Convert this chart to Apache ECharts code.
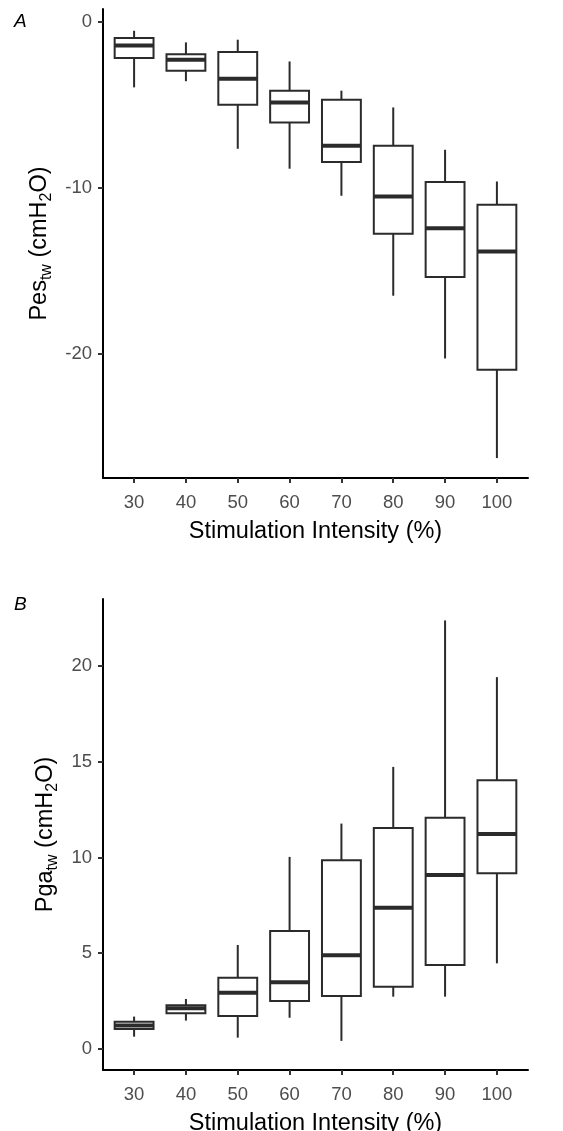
<!DOCTYPE html>
<html>
<head>
<meta charset="utf-8">
<script src="https://cdn.jsdelivr.net/npm/echarts@6/dist/echarts.min.js"></script>
<style>
html,body{margin:0;padding:0;background:#fff;}
#chart{width:563px;height:1131px;}
</style>
</head>
<body>
<div id="chart"></div>
<script>
// Categories (stimulation intensity, %)
const categories = ['30', '40', '50', '60', '70', '80', '90', '100'];

// Panel A: Pes_tw (cmH2O)
const pesLow    = [-3.97, -3.60, -7.67, -8.87, -10.50, -16.52, -20.30, -26.30];
const pesQ1     = [-2.20, -2.97, -5.02, -6.08,  -8.47, -12.79, -15.40, -20.98];
const pesMedian = [-1.45, -2.30, -3.45, -4.88,  -7.49, -10.54, -12.45, -13.86];
const pesQ3     = [-1.00, -1.97, -1.84, -4.17,  -4.72,  -7.49,  -9.67, -11.04];
const pesHigh   = [-0.56, -1.26, -1.10, -2.41,  -4.17,  -5.18,  -7.73,  -9.64];
const pesTicks  = [-20, -10, 0];

// Panel B: Pga_tw (cmH2O)
const pgaLow    = [0.64, 1.48, 0.59, 1.63, 0.42, 2.73, 2.73, 4.47];
const pgaQ1     = [1.04, 1.86, 1.72, 2.50, 2.76, 3.25, 4.38, 9.17];
const pgaMedian = [1.22, 2.12, 2.94, 3.48, 4.89, 7.37, 9.08, 11.22];
const pgaQ3     = [1.42, 2.28, 3.72, 6.16, 9.86, 11.54, 12.07, 14.03];
const pgaHigh   = [1.69, 2.61, 5.43, 10.03, 11.77, 14.73, 22.38, 19.42];
const pgaTicks  = [0, 5, 10, 15, 20];

const FONT = '"Liberation Sans", Arial, Helvetica, sans-serif';
const positions = categories.map((c, i) => i + 1);

function buildData(low, q1, med, q3, high) {
  return categories.map((c, i) => [i + 1, low[i], q1[i], med[i], q3[i], high[i]]);
}

function renderBox(params, api) {
  const x = api.value(0);
  const lo = api.coord([x, api.value(1)]);
  const q1 = api.coord([x, api.value(2)]);
  const med = api.coord([x, api.value(3)]);
  const q3 = api.coord([x, api.value(4)]);
  const hi = api.coord([x, api.value(5)]);
  const w = api.size([0.75, 0])[0];
  const cx = lo[0];
  const ls = {stroke: '#2b2b2b', lineWidth: 2, fill: null};
  return {
    type: 'group',
    children: [
      {type: 'line', shape: {x1: cx, y1: hi[1], x2: cx, y2: q3[1]}, style: ls},
      {type: 'line', shape: {x1: cx, y1: q1[1], x2: cx, y2: lo[1]}, style: ls},
      {type: 'rect', shape: {x: cx - w / 2, y: q3[1], width: w, height: q1[1] - q3[1]},
        style: {stroke: '#2b2b2b', lineWidth: 2, fill: '#ffffff'}},
      {type: 'line', shape: {x1: cx - w / 2, y1: med[1], x2: cx + w / 2, y2: med[1]},
        style: {stroke: '#2b2b2b', lineWidth: 4}}
    ]
  };
}

function xAxisCfg(gridIndex) {
  return {
    type: 'value', gridIndex: gridIndex, min: 0.4, max: 8.6,
    axisLine: {show: true, onZero: false, lineStyle: {color: '#000', width: 2}},
    axisTick: {show: true, customValues: positions, length: 5, lineStyle: {color: '#333', width: 2}},
    axisLabel: {customValues: positions, formatter: v => categories[Math.round(v) - 1],
      fontSize: 18.5, color: '#4d4d4d', fontFamily: FONT, margin: 15},
    splitLine: {show: false},
    name: 'Stimulation Intensity (%)', nameLocation: 'middle', nameGap: 42,
    nameTextStyle: {fontSize: 23.5, color: '#000', fontFamily: FONT}
  };
}

function yAxisCfg(gridIndex, min, max, ticks, prefix) {
  return {
    type: 'value', gridIndex: gridIndex, min: min, max: max,
    axisLine: {show: true, onZero: false, lineStyle: {color: '#000', width: 2}},
    axisTick: {show: true, customValues: ticks, length: 5, lineStyle: {color: '#333', width: 2}},
    axisLabel: {customValues: ticks, fontSize: 18.5, color: '#4d4d4d', fontFamily: FONT, margin: 11},
    splitLine: {show: false},
    name: '{m|' + prefix + '}{s|tw}{m| (cmH}{s|2}{m|O)}',
    nameLocation: 'middle', nameRotate: 90, nameGap: 38,
    nameTextStyle: {
      color: '#000', fontFamily: FONT,
      rich: {
        m: {fontSize: 23.5, lineHeight: 30, color: '#000', fontFamily: FONT},
        s: {fontSize: 16, lineHeight: 16, verticalAlign: 'bottom', color: '#000', fontFamily: FONT}
      }
    }
  };
}

const chart = echarts.init(document.getElementById('chart'), null, {renderer: 'canvas'});
chart.setOption({
  backgroundColor: '#ffffff',
  animation: false,
  title: [
    {text: 'A', left: 9, top: 7, textStyle: {fontSize: 19, fontStyle: 'italic', fontWeight: 'normal', color: '#000', fontFamily: FONT}},
    {text: 'B', left: 9, top: 590, textStyle: {fontSize: 19, fontStyle: 'italic', fontWeight: 'normal', color: '#000', fontFamily: FONT}}
  ],
  grid: [
    {left: 103, right: 35, top: 9, height: 469, containLabel: false, outerBoundsMode: 'none'},
    {left: 103, right: 35, top: 599, height: 471, containLabel: false, outerBoundsMode: 'none'}
  ],
  xAxis: [xAxisCfg(0), xAxisCfg(1)],
  yAxis: [
    yAxisCfg(0, -27.5, 0.75, pesTicks, 'Pes'),
    yAxisCfg(1, -1.1, 23.5, pgaTicks, 'Pga')
  ],
  series: [
    {type: 'custom', xAxisIndex: 0, yAxisIndex: 0, renderItem: renderBox,
      encode: {x: 0, y: [1, 2, 3, 4, 5]}, data: buildData(pesLow, pesQ1, pesMedian, pesQ3, pesHigh)},
    {type: 'custom', xAxisIndex: 1, yAxisIndex: 1, renderItem: renderBox,
      encode: {x: 0, y: [1, 2, 3, 4, 5]}, data: buildData(pgaLow, pgaQ1, pgaMedian, pgaQ3, pgaHigh)}
  ]
});
</script>
</body>
</html>
